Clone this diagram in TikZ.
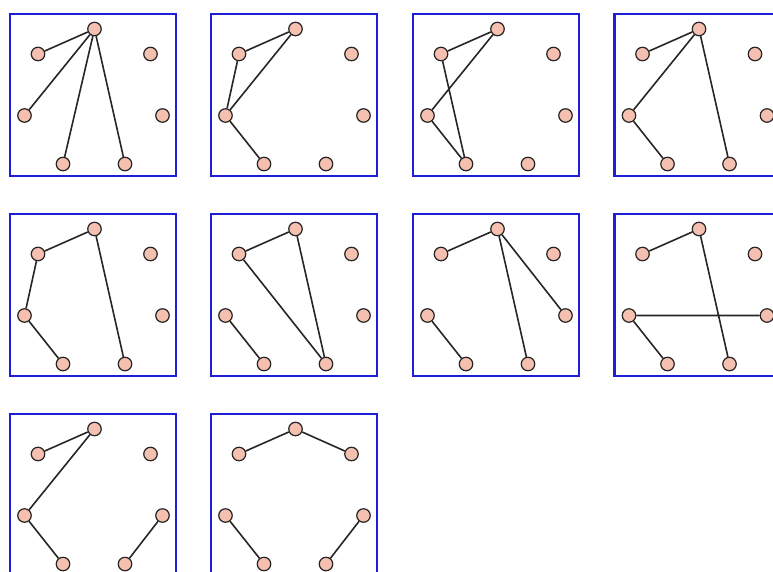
\documentclass[tikz,border=0pt]{standalone}
\usepackage{tikz}
\usetikzlibrary{positioning}
\definecolor{frameBlue}{RGB}{30,30,215}
\definecolor{vtxPeach}{RGB}{246,192,176}

% one panel: frame and the seven vertices, named #1t, #1ul, ...
\newcommand{\heptpanel}[3]{%
  \begin{scope}[shift={(#2,#3)}]
  \draw[frame] (0,0) rectangle (166,162);
  \node[vtx] (#1t)  at (84.5,15)   {};
  \node[vtx] (#1ul) at (28,40)     {};
  \node[vtx] (#1ur) at (140.5,40)  {};
  \node[vtx] (#1l)  at (14.5,101.5) {};
  \node[vtx] (#1r)  at (152.5,101.5) {};
  \node[vtx] (#1bl) at (53,150)    {};
  \node[vtx] (#1br) at (115,150)   {};
  \end{scope}}

\begin{document}
\begin{tikzpicture}[x=1pt,y=-1pt,
  frame/.style={draw=frameBlue,line width=2.3pt},
  vtx/.style={circle,draw=black!85,fill=vtxPeach,line width=1.2pt,inner sep=0pt,minimum size=13.5pt},
  edge/.style={draw=black!85,line width=1.6pt}]
\path[use as bounding box,clip] (0,0) rectangle (773,571);
% --- row 1 ---
\heptpanel{a}{10}{14}
\heptpanel{b}{211}{14}
\heptpanel{c}{413}{14}
\heptpanel{d}{614.5}{14}
% --- row 2 ---
\heptpanel{e}{10}{214}
\heptpanel{f}{211}{214}
\heptpanel{g}{413}{214}
\heptpanel{h}{614.5}{214}
% --- row 3 ---
\heptpanel{i}{10}{414}
\heptpanel{j}{211}{414}
% --- edges ---
\path[edge] (at) -- (aul) (at) -- (al) (at) -- (abl) (at) -- (abr);
\path[edge] (bt) -- (bul) (bt) -- (bl) (bul) -- (bl) (bl) -- (bbl);
\path[edge] (ct) -- (cul) (ct) -- (cl) (cul) -- (cbl) (cl) -- (cbl);
\path[edge] (dt) -- (dul) (dt) -- (dl) (dl) -- (dbl) (dt) -- (dbr);
\path[edge] (et) -- (eul) (eul) -- (el) (el) -- (ebl) (et) -- (ebr);
\path[edge] (ft) -- (ful) (ful) -- (fbr) (ft) -- (fbr) (fl) -- (fbl);
\path[edge] (gt) -- (gul) (gt) -- (gbr) (gt) -- (gr) (gl) -- (gbl);
\path[edge] (ht) -- (hul) (ht) -- (hbr) (hl) -- (hr) (hl) -- (hbl);
\path[edge] (it) -- (iul) (it) -- (il) (il) -- (ibl) (ir) -- (ibr);
\path[edge] (jul) -- (jt) (jt) -- (jur) (jl) -- (jbl) (jr) -- (jbr);
\end{tikzpicture}
\end{document}
